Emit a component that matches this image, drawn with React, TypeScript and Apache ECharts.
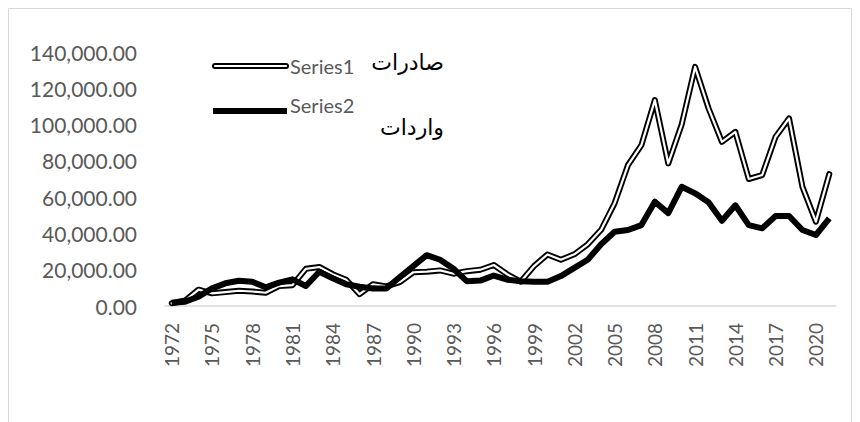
import React, { useEffect, useRef } from "react";
import * as echarts from "echarts";

const years: string[] = [];
for (let y = 1972; y <= 2021; y++) years.push(String(y));

const exportsSeries1: number[] = [
  1500, 3000, 9000, 7000, 7700, 8400, 8000, 7300, 11000, 11500,
  20500, 21500, 17500, 14500, 6500, 12000, 10800, 13200, 18600, 18900,
  19600, 17800, 19200, 20000, 22600, 17500, 13400, 22000, 28400, 25500,
  28500, 34000, 42000, 56600, 77700, 88700, 113500, 78600, 100000, 131800,
  109000, 90500, 96000, 70000, 72200, 93300, 103400, 65700, 46500, 72700,
];

const importsSeries2: number[] = [
  1800, 2400, 5100, 9700, 12500, 13900, 13400, 10300, 12900, 14700,
  11000, 18900, 15300, 12000, 10600, 9700, 9700, 16000, 22000, 28000,
  25500, 20500, 13600, 14000, 16800, 14500, 13600, 13400, 13400, 16500,
  21000, 25500, 34000, 40900, 41900, 44600, 57500, 51200, 65700, 62100,
  57200, 47000, 55500, 44600, 42800, 49600, 49600, 41900, 39100, 48300,
];

const seriesNames = ["Series1", "Series2"];
const arabicNames = ["صادرات", "واردات"];

const FONT = "Lato, 'Open Sans', 'Liberation Sans', sans-serif";

export default function App() {
  const ref = useRef<HTMLDivElement>(null);
  useEffect(() => {
    if (!ref.current) return;
    const chart = echarts.init(ref.current, null, { renderer: "svg" });
    chart.setOption({
      animation: false,
      backgroundColor: "#ffffff",
      grid: { left: 165, right: 24, top: 52, bottom: 116, containLabel: false },
      xAxis: {
        type: "category",
        data: years,
        boundaryGap: true,
        axisTick: { show: false },
        axisLine: { lineStyle: { color: "#d9d9d9", width: 1.5 } },
        axisLabel: {
          rotate: 90,
          interval: 2,
          color: "#595959",
          fontSize: 19,
          fontFamily: FONT,
          margin: 17,
        },
      },
      yAxis: {
        type: "value",
        min: 0,
        max: 140000,
        interval: 20000,
        splitLine: { show: false },
        axisLine: { show: false },
        axisTick: { show: false },
        axisLabel: {
          color: "#595959",
          fontSize: 21,
          fontFamily: FONT,
          margin: 28,
          formatter: (v: number) =>
            v.toLocaleString("en-US", { minimumFractionDigits: 2, maximumFractionDigits: 2 }),
        },
      },
      series: [
        {
          name: seriesNames[0],
          type: "line",
          data: exportsSeries1,
          symbol: "none",
          lineStyle: { color: "#000000", width: 6, join: "round", cap: "round" },
          z: 2,
        },
        {
          name: seriesNames[0] + "-inner",
          type: "line",
          data: exportsSeries1,
          symbol: "none",
          lineStyle: { color: "#ffffff", width: 2.2, join: "round", cap: "round" },
          z: 3,
        },
        {
          name: seriesNames[1],
          type: "line",
          data: importsSeries2,
          symbol: "none",
          lineStyle: { color: "#000000", width: 6, join: "round" },
          z: 4,
        },
      ],
      graphic: [
        {
          type: "rect",
          shape: { x: 8.5, y: 8.5, width: 843, height: 420 },
          style: { fill: "none", stroke: "#d9d9d9", lineWidth: 1 },
          silent: true,
        },
        {
          type: "line",
          shape: { x1: 215, y1: 66, x2: 286, y2: 66 },
          style: { stroke: "#000", lineWidth: 6, lineCap: "round" },
        },
        {
          type: "line",
          shape: { x1: 215, y1: 66, x2: 286, y2: 66 },
          style: { stroke: "#fff", lineWidth: 2.2, lineCap: "round" },
        },
        {
          type: "text",
          x: 290,
          y: 66,
          style: {
            text: seriesNames[0],
            fill: "#595959",
            font: "20px " + FONT,
            textVerticalAlign: "middle",
          },
        },
        {
          type: "text",
          x: 444,
          y: 62,
          style: {
            text: arabicNames[0],
            fill: "#000",
            font: "22px 'DejaVu Sans', sans-serif",
            textAlign: "right",
            textVerticalAlign: "middle",
          },
        },
        {
          type: "line",
          shape: { x1: 213, y1: 111, x2: 287, y2: 111 },
          style: { stroke: "#000", lineWidth: 6 },
        },
        {
          type: "text",
          x: 290,
          y: 105,
          style: {
            text: seriesNames[1],
            fill: "#595959",
            font: "20px " + FONT,
            textVerticalAlign: "middle",
          },
        },
        {
          type: "text",
          x: 444,
          y: 127,
          style: {
            text: arabicNames[1],
            fill: "#000",
            font: "22px 'DejaVu Sans', sans-serif",
            textAlign: "right",
            textVerticalAlign: "middle",
          },
        },
      ],
    });
    return () => chart.dispose();
  }, []);
  return (
    <div
      ref={ref}
      style={{ position: "fixed", left: 0, top: 0, width: 860, height: 422 }}
    />
  );
}
